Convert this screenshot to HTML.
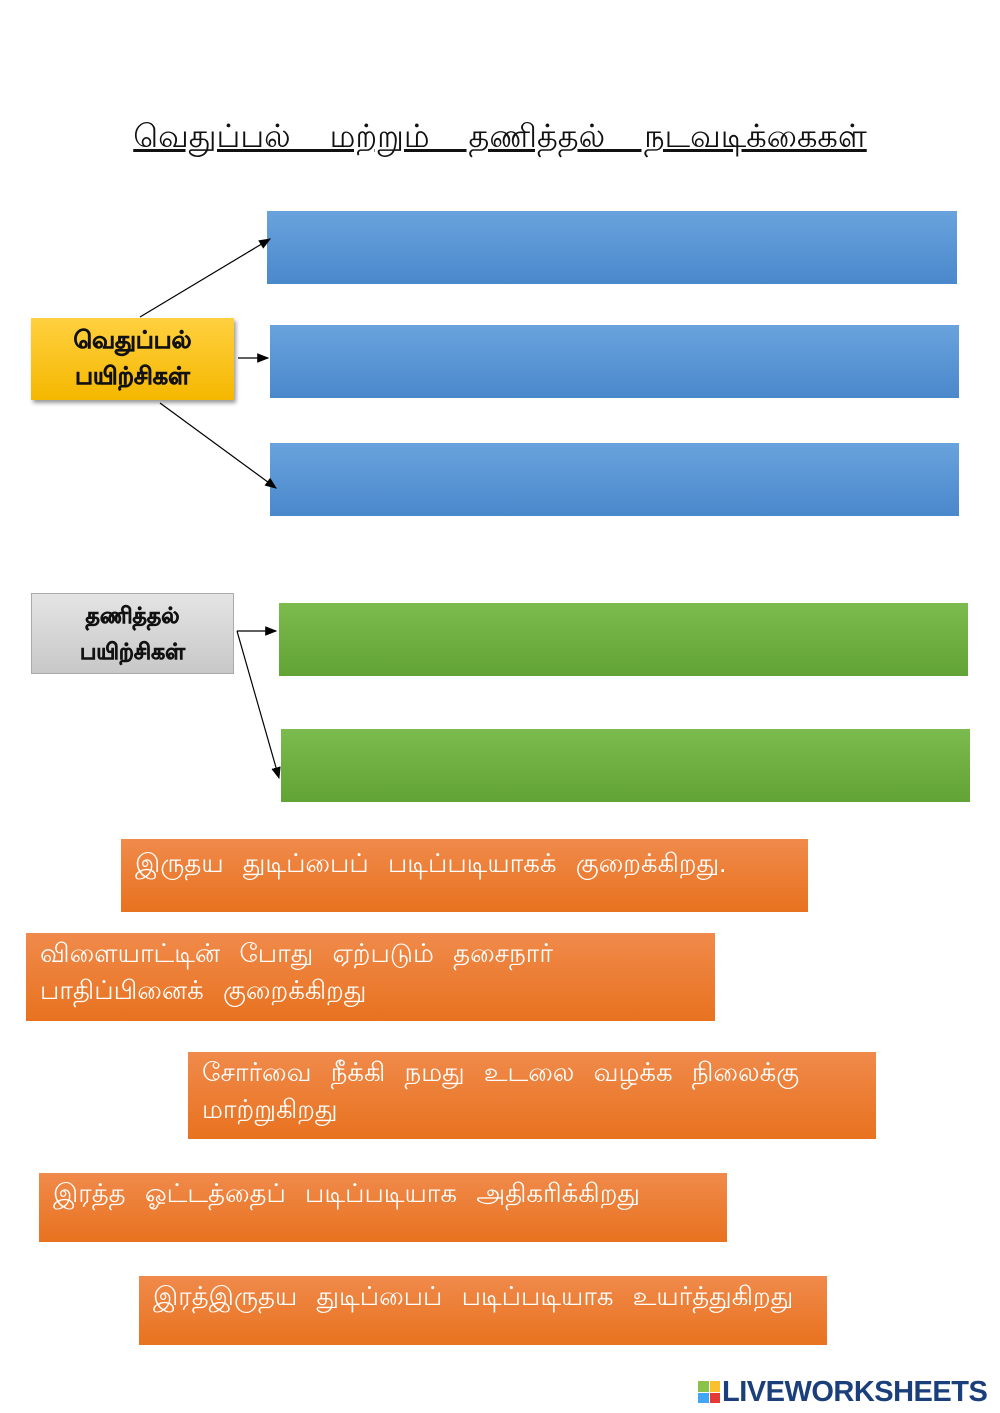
<!DOCTYPE html>
<html><head><meta charset="utf-8"><style>
body{margin:0;background:#fff;}
.p{position:relative;width:1000px;height:1413px;overflow:hidden;font-family:"Liberation Sans","DejaVu Sans",sans-serif;}
.b{position:absolute;}
.blue{background:linear-gradient(#69a3dd,#4a88cc);}
.green{background:linear-gradient(#7cbb4d,#62a336);}
.or{background:linear-gradient(#f08a4b,#e8721f);color:#fff;font-size:26px;line-height:37px;padding:2px 14px;box-sizing:border-box;word-spacing:12px;white-space:nowrap;}
.lbl{display:flex;align-items:center;justify-content:center;text-align:center;font-weight:bold;font-size:24px;line-height:36px;color:#111;-webkit-text-stroke:0.6px #111;}
</style></head><body><div class="p">
<div class="b" style="left:100px;top:118px;width:800px;text-align:center;font-size:32px;text-decoration:underline;color:#111;word-spacing:30px;white-space:nowrap;">வெதுப்பல் மற்றும் தணித்தல் நடவடிக்கைகள்</div>
<div class="b blue" style="left:267px;top:211px;width:690px;height:73px"></div>
<div class="b blue" style="left:270px;top:325px;width:689px;height:73px"></div>
<div class="b blue" style="left:270px;top:443px;width:689px;height:73px"></div>
<div class="b lbl" style="left:31px;top:318px;width:203px;height:82px;background:linear-gradient(#ffd040,#f5b800);box-shadow:2px 3px 4px rgba(0,0,0,.4)">வெதுப்பல்<br>பயிற்சிகள்</div>
<div class="b lbl" style="left:31px;top:593px;width:203px;height:81px;background:linear-gradient(#e4e4e4,#c8c8c8);border:1px solid #aaa;box-sizing:border-box;font-size:22px">தணித்தல்<br>பயிற்சிகள்</div>
<div class="b green" style="left:279px;top:603px;width:689px;height:73px"></div>
<div class="b green" style="left:281px;top:729px;width:689px;height:73px"></div>
<svg class="b" style="left:0;top:0" width="1000" height="820">
<defs><marker id="a" markerWidth="10" markerHeight="8" refX="9" refY="4" orient="auto"><path d="M0,0L10,4L0,8z" fill="#000"/></marker></defs>
<g stroke="#000" stroke-width="1.2" marker-end="url(#a)">
<line x1="140" y1="317" x2="270" y2="239"/>
<line x1="238" y1="358" x2="268" y2="358"/>
<line x1="160" y1="403" x2="276" y2="488"/>
<line x1="237" y1="631" x2="276" y2="631"/>
<line x1="237" y1="631" x2="279" y2="778"/>
</g></svg>
<div class="b or" style="left:121px;top:839px;width:687px;height:73px;padding-top:6px">இருதய துடிப்பைப் படிப்படியாகக் குறைக்கிறது.</div>
<div class="b or" style="left:26px;top:933px;width:689px;height:88px">விளையாட்டின் போது ஏற்படும் தசைநார்<br>பாதிப்பினைக்  குறைக்கிறது</div>
<div class="b or" style="left:188px;top:1052px;width:688px;height:87px">சோர்வை நீக்கி நமது உடலை வழக்க நிலைக்கு<br>மாற்றுகிறது</div>
<div class="b or" style="left:39px;top:1173px;width:688px;height:69px">இரத்த ஓட்டத்தைப் படிப்படியாக அதிகரிக்கிறது</div>
<div class="b or" style="left:139px;top:1276px;width:688px;height:69px">இரத்இருதய துடிப்பைப் படிப்படியாக உயர்த்துகிறது</div>
<div class="b" style="left:698px;top:1381px;width:22px;height:22px;display:grid;grid-template-columns:1fr 1fr;gap:1px;">
<div style="background:#8bc34a"></div><div style="background:#fbc02d"></div><div style="background:#42a5f5"></div><div style="background:#e53935"></div></div>
<div class="b" style="left:722px;top:1376px;font-size:29px;font-weight:bold;color:#1b3f7a;letter-spacing:-0.5px">LIVEWORKSHEETS</div>
</div></body></html>
